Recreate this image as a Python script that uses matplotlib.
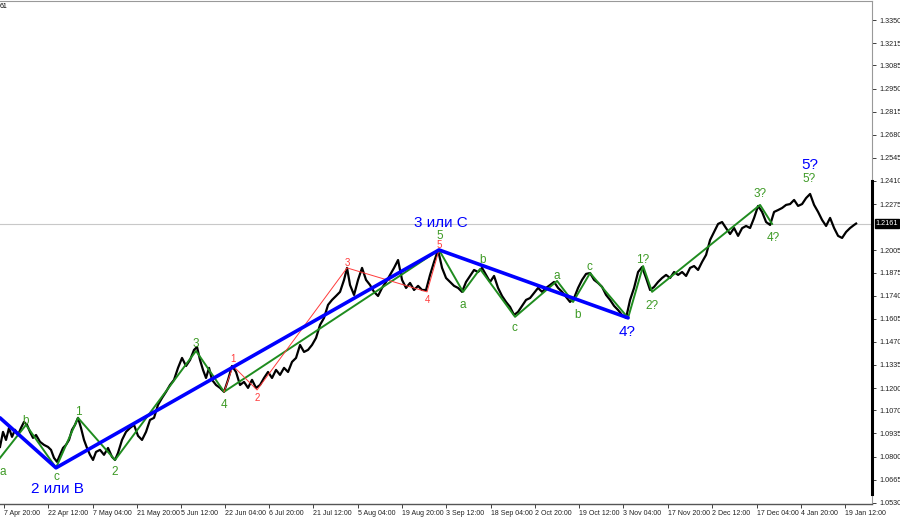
import matplotlib
matplotlib.use("Agg")
import matplotlib.pyplot as plt

plt.rcParams['font.family'] = ['Liberation Sans', 'DejaVu Sans']

# EURUSD H4 close (bar position, price)
bar = [0, 3, 6, 9, 12, 15, 18, 21, 24, 27, 30, 33, 36, 40, 44, 48, 51, 54, 57, 60,
       63, 66, 69, 72, 75, 78, 81, 84, 87, 90, 93, 96, 100, 104, 108, 112, 115, 118, 122, 126,
       130, 134, 138, 142, 146, 150, 154, 158, 162, 166, 170, 174, 178, 182, 186, 190, 194, 197, 200, 203,
       206, 209, 212, 216, 220, 224, 228, 232, 236, 240, 244, 248, 252, 256, 260, 264, 268, 272, 276, 280,
       284, 288, 292, 296, 300, 304, 308, 312, 316, 320, 324, 328, 332, 336, 340, 344, 347, 350, 354, 358,
       362, 366, 370, 374, 378, 382, 386, 390, 394, 398, 402, 406, 410, 414, 418, 422, 426, 430, 434, 438,
       442, 446, 450, 454, 458, 462, 466, 470, 474, 478, 482, 486, 490, 494, 498, 502, 506, 510, 514, 518,
       522, 526, 530, 534, 538, 542, 546, 550, 554, 558, 562, 566, 570, 574, 578, 582, 586, 590, 594, 598,
       602, 606, 610, 614, 618, 622, 626, 630, 634, 638, 642, 646, 650, 654, 658, 662, 666, 670, 674, 678,
       682, 686, 690, 694, 698, 702, 706, 710, 714, 718, 722, 726, 730, 734, 738, 742, 746, 750, 754, 758,
       762, 766, 770, 774, 778, 782, 786, 790, 794, 798, 802, 806, 810, 814, 818, 822, 826, 830, 834, 838,
       842, 846, 850, 854, 856]
close = [1.0856, 1.0944, 1.0897, 1.0967, 1.0915, 1.0956, 1.0926, 1.0967, 1.1002, 1.0985,
         1.0944, 1.0909, 1.0926, 1.0886, 1.0868, 1.0856, 1.0839, 1.0792, 1.0769, 1.0810,
         1.0850, 1.0868, 1.0897, 1.0956, 1.0985, 1.1026, 1.0967, 1.0897, 1.0850, 1.0810,
         1.0780, 1.0827, 1.0839, 1.0810, 1.0850, 1.0798, 1.0780, 1.0821, 1.0897, 1.0944,
         1.0967, 1.0985, 1.0921, 1.0897, 1.0944, 1.1014, 1.1026, 1.1102, 1.1142, 1.1178,
         1.1218, 1.1248, 1.1318, 1.1376, 1.1329, 1.1364, 1.1423, 1.1440, 1.1364, 1.1306,
         1.1259, 1.1318, 1.1248, 1.1218, 1.1201, 1.1178, 1.1248, 1.1329, 1.1294, 1.1218,
         1.1236, 1.1201, 1.1248, 1.1201, 1.1218, 1.1259, 1.1294, 1.1259, 1.1306, 1.1277,
         1.1318, 1.1294, 1.1353, 1.1376, 1.1452, 1.1411, 1.1423, 1.1452, 1.1493, 1.1569,
         1.1610, 1.1686, 1.1715, 1.1738, 1.1762, 1.1832, 1.1902, 1.1802, 1.1744, 1.1832,
         1.1902, 1.1832, 1.1802, 1.1762, 1.1738, 1.1785, 1.1820, 1.1861, 1.1902, 1.1948,
         1.1832, 1.1785, 1.1814, 1.1773, 1.1797, 1.1773, 1.1773, 1.1861, 1.1937, 1.2007,
         1.1902, 1.1843, 1.1820, 1.1797, 1.1785, 1.1762, 1.1820, 1.1855, 1.1890, 1.1878,
         1.1902, 1.1861, 1.1820, 1.1855, 1.1785, 1.1738, 1.1703, 1.1674, 1.1627, 1.1645,
         1.1680, 1.1715, 1.1726, 1.1756, 1.1785, 1.1762, 1.1785, 1.1802, 1.1820, 1.1785,
         1.1762, 1.1732, 1.1703, 1.1726, 1.1785, 1.1832, 1.1867, 1.1872, 1.1832, 1.1814,
         1.1791, 1.1744, 1.1715, 1.1680, 1.1656, 1.1627, 1.1610, 1.1715, 1.1785, 1.1878,
         1.1907, 1.1843, 1.1773, 1.1791, 1.1820, 1.1843, 1.1861, 1.1843, 1.1878, 1.1861,
         1.1878, 1.1855, 1.1902, 1.1913, 1.1890, 1.1937, 1.1978, 1.2065, 1.2112, 1.2159,
         1.2170, 1.2134, 1.2100, 1.2135, 1.2089, 1.2134, 1.2147, 1.2135, 1.2194, 1.2264,
         1.2229, 1.2170, 1.2153, 1.2229, 1.2240, 1.2252, 1.2270, 1.2275, 1.2299, 1.2264,
         1.2275, 1.2310, 1.2334, 1.2270, 1.2229, 1.2182, 1.2147, 1.2194, 1.2135, 1.2089,
         1.2077, 1.2112, 1.2135, 1.2153, 1.2161]
last_price = 1.2161

# wave counts
blue_bar = [0, 56, 439, 628]
blue_px = [1.1026, 1.0734, 1.2007, 1.1610]
green_bar = [0, 26, 56, 78, 115, 196, 224, 439, 463, 480, 515, 557, 573, 590, 628, 643, 652, 760, 772]
green_px = [1.0792, 1.0985, 1.0734, 1.1026, 1.0780, 1.1417, 1.1178, 1.2007, 1.1762, 1.1896,
            1.1616, 1.1826, 1.1703, 1.1872, 1.1610, 1.1913, 1.1762, 1.2270, 1.2159]
red_bar = [224, 233, 257, 347, 427, 439]
red_px = [1.1178, 1.1329, 1.1189, 1.1902, 1.1762, 1.2007]

# labels: text, bar, price, kind
labels = [
    ("a", 0, 1.0710, "g"), ("b", 26, 1.1008, "g"), ("c", 56, 1.0680, "g"),
    ("1", 78, 1.1061, "g"), ("2", 115, 1.0710, "g"), ("3", 196, 1.1458, "g"),
    ("4", 224, 1.1102, "g"), ("5", 440, 1.2087, "g"), ("a", 463, 1.1686, "g"),
    ("b", 482, 1.1948, "g"), ("c", 514, 1.1551, "g"), ("a", 557, 1.1855, "g"),
    ("b", 577, 1.1627, "g"), ("c", 589, 1.1907, "g"), ("1?", 643, 1.1948, "g"),
    ("2?", 652, 1.1680, "g"), ("3?", 760, 1.2334, "g"), ("4?", 773, 1.2077, "g"),
    ("5?", 809, 1.2421, "g"),
    ("1", 233, 1.1370, "r"), ("2", 257, 1.1142, "r"), ("3", 347, 1.1931, "r"),
    ("4", 427, 1.1715, "r"), ("5", 439, 1.2034, "r"),
    ("2 или B", 57, 1.0612, "b"), ("3 или С", 441, 1.2166, "b"),
    ("4?", 627, 1.1528, "b"), ("5?", 810, 1.2503, "b"),
]

xtick_bar = [4, 48, 93, 137, 181, 225, 269, 313, 358, 402, 446, 491, 535, 579, 623, 668, 712, 757, 801, 845]
xtick_lab = ["7 Apr 20:00", "22 Apr 12:00", "7 May 04:00", "21 May 20:00", "5 Jun 12:00",
             "22 Jun 04:00", "6 Jul 20:00", "21 Jul 12:00", "5 Aug 04:00", "19 Aug 20:00",
             "3 Sep 12:00", "18 Sep 04:00", "2 Oct 20:00", "19 Oct 12:00", "3 Nov 04:00",
             "17 Nov 20:00", "2 Dec 12:00", "17 Dec 04:00", "4 Jan 20:00", "19 Jan 12:00"]
ytick_lab = ["1.3350", "1.3215", "1.3085", "1.2950", "1.2815", "1.2680", "1.2545", "1.2410",
             "1.2275", "1.2005", "1.1875", "1.1740", "1.1605", "1.1470", "1.1335", "1.1200",
             "1.1070", "1.0935", "1.0800", "1.0665", "1.0530"]

GREEN = "#1f8c1f"
GREEN_T = "#3d9a25"
RED = "#ff3b3b"
BLUE = "#0000ff"

fig = plt.figure(figsize=(9, 5.19), dpi=100)
ax = fig.add_axes([0, 0.029, 0.969, 0.969])

ax.axhline(last_price, color="#c8c8c8", lw=0.8, zorder=1)
ax.plot(bar, close, color="black", lw=1.6, zorder=2)
ax.plot(green_bar, green_px, color=GREEN, lw=1.4, zorder=3)
ax.plot(red_bar, red_px, color=RED, lw=0.7, zorder=3)
ax.plot(blue_bar, blue_px, color=BLUE, lw=2.6, zorder=4, solid_capstyle="round")

for txt, b, p, kind in labels:
    ha = "left" if b == 0 else "center"
    if kind == "g":
        ax.text(b, p, txt, color=GREEN_T, fontsize=8.5, ha=ha, va="center", zorder=5)
    elif kind == "r":
        ax.text(b, p, txt, color=RED, fontsize=7, ha=ha, va="center", zorder=5)
    else:
        ax.text(b, p, txt, color=BLUE, fontsize=11, ha=ha, va="center", zorder=5)

ax.set_xlim(0, 872)
ax.set_ylim(1.0523, 1.3461)

ax.set_xticks(xtick_bar)
ax.set_xticklabels(xtick_lab, fontsize=5, ha="left")
ax.yaxis.tick_right()
ax.set_yticks([float(v) for v in ytick_lab])
ax.set_yticklabels(ytick_lab, fontsize=5.2)
ax.tick_params(axis="x", length=3, width=0.6, pad=1, colors="#202020")
ax.tick_params(axis="y", length=3, width=0.6, pad=2, colors="#202020")

ax.spines["left"].set_visible(False)
ax.spines["top"].set_color("#999999")
ax.spines["right"].set_color("#999999")
ax.spines["bottom"].set_color("#555555")
ax.spines["bottom"].set_linewidth(1.0)

# thick dark strip on the price scale
ax.plot([1, 1], [0.02, (1.2410 - 1.0523) / (1.3461 - 1.0523)], transform=ax.transAxes,
        color="black", lw=2.2, clip_on=False, zorder=6)

# current price tag
ax.text(1.004, last_price, "1.2161", transform=ax.get_yaxis_transform(), fontsize=5.2,
        color="white", va="center", ha="left",
        bbox=dict(boxstyle="square,pad=0.15", fc="black", ec="black"))

fig.text(0.0, 0.988, "61", fontsize=5, color="black", va="center")

fig.savefig("out.png", dpi=100, facecolor="white")
